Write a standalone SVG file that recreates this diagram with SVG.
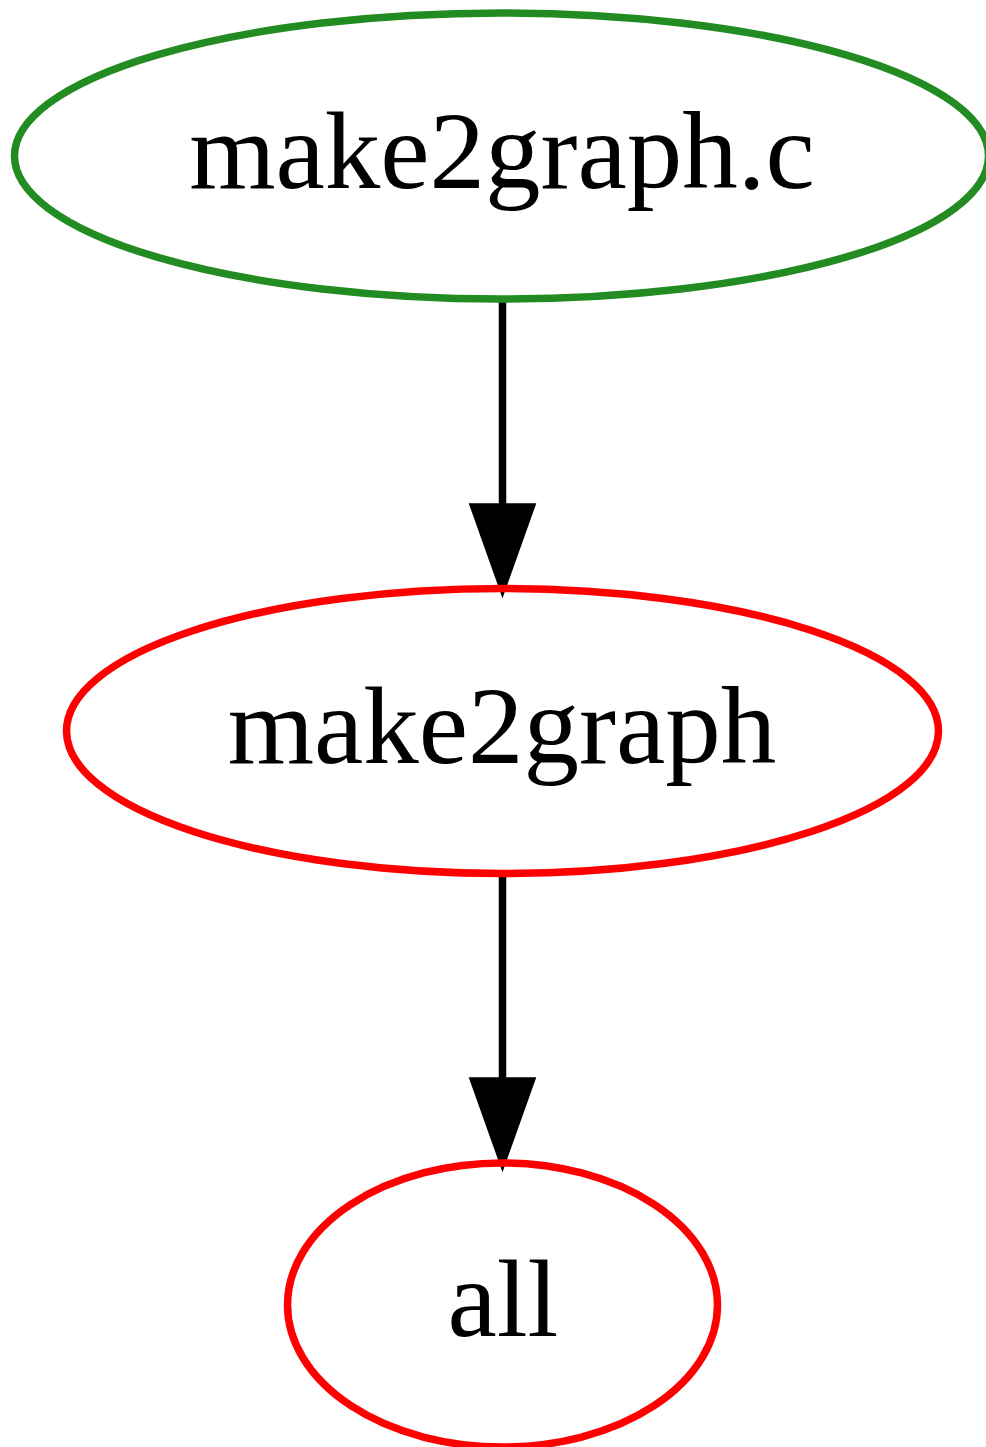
<svg xmlns="http://www.w3.org/2000/svg" width="986" height="1447" viewBox="0 0 986 1447">
<style>
.node ellipse{fill:none;stroke-width:7.5}
.node text{font-family:"Liberation Serif","Times New Roman",serif;font-size:111px;fill:#000;text-anchor:middle}
.edge line{stroke:#000;stroke-width:7.5}
.edge polygon{fill:#000;stroke:#000;stroke-width:7.5;stroke-miterlimit:10}
</style>
<rect width="986" height="1447" fill="#fff"/>
<g id="edges">
<g class="edge" id="e1">
<line x1="502.5" y1="300" x2="502.5" y2="510"/>
<polygon points="474,507 531,507 502.5,587"/>
</g>
<g class="edge" id="e2">
<line x1="502.5" y1="874" x2="502.5" y2="1084"/>
<polygon points="474,1081 531,1081 502.5,1161"/>
</g>
</g>
<g class="node" id="n_make2graph_c">
<ellipse cx="501.5" cy="156" rx="487" ry="143" stroke="#228b22"/>
<text x="502" y="188">make2graph.c</text>
</g>
<g class="node" id="n_make2graph">
<ellipse cx="502.5" cy="731" rx="436" ry="142.5" stroke="#ff0000"/>
<text x="502" y="763">make2graph</text>
</g>
<g class="node" id="n_all">
<ellipse cx="502.5" cy="1305" rx="215" ry="142" stroke="#ff0000"/>
<text x="503" y="1336">all</text>
</g>
</svg>
